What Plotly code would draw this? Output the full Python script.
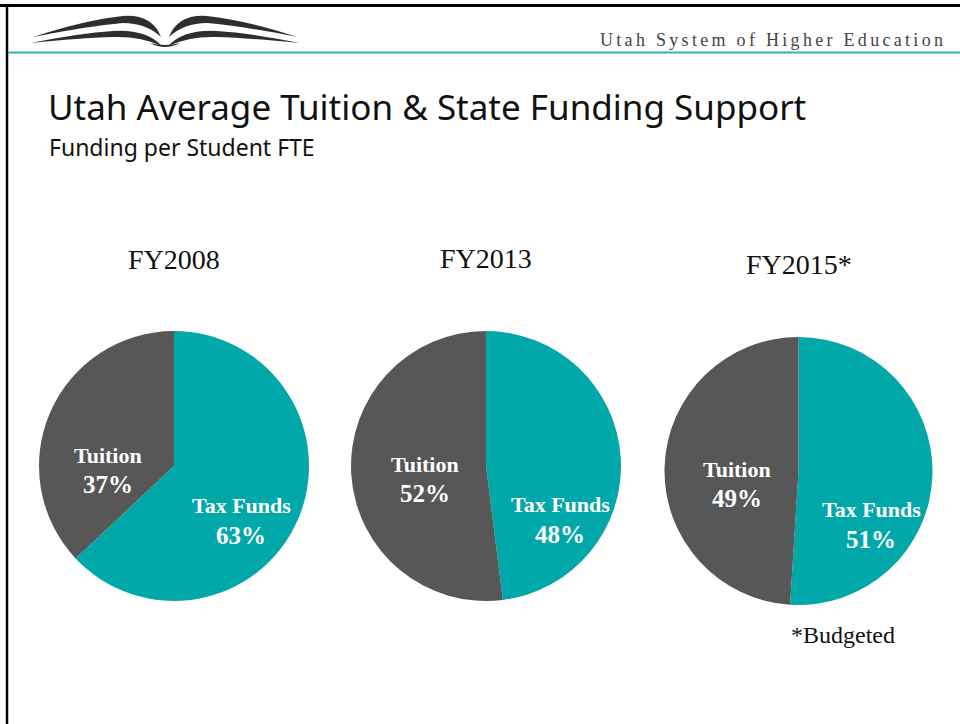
import plotly.graph_objects as go

# Dados
anos = ["FY2008", "FY2013", "FY2015*"]
categorias = ["Tax Funds", "Tuition"]
tax_funds = [63, 48, 51]
tuition = [37, 52, 49]

COR_TEAL = "#00A8A9"
COR_CINZA = "#575757"
SERIF = "Liberation Serif"

# Posições (pixels) de cada pizza: x0, x1, y0, y1
caixas = [(39, 309, 331, 601), (351, 621, 331, 601), (664, 933, 337, 605)]
# Posições dos rótulos: (tuition x, y), (tax x, y), título y
rotulos = [
    ((108, 455), (241, 505), 259),
    ((425, 464), (560, 504), 258),
    ((737, 469), (871, 509), 264),
]

W, H = 960, 724

fig = go.Figure()

for i, ano in enumerate(anos):
    x0, x1, y0, y1 = caixas[i]
    fig.add_trace(
        go.Pie(
            labels=categorias,
            values=[tax_funds[i], tuition[i]],
            marker=dict(colors=[COR_TEAL, COR_CINZA], line=dict(width=0)),
            direction="clockwise",
            sort=False,
            rotation=0,
            textinfo="none",
            hoverinfo="label+percent",
            showlegend=False,
            domain=dict(x=[x0 / W, x1 / W], y=[1 - y1 / H, 1 - y0 / H]),
        )
    )

    (tx, ty), (fx, fy), titulo_y = rotulos[i]
    cx = (x0 + x1) / 2
    # Título de cada pizza
    fig.add_annotation(x=cx, y=titulo_y, text=ano, showarrow=False,
                       font=dict(family=SERIF, size=28, color="#111111"))
    # Rótulos internos
    fig.add_annotation(x=tx, y=ty, text="<b>Tuition</b>", showarrow=False,
                       font=dict(family=SERIF, size=22, color="white"))
    fig.add_annotation(x=tx, y=ty + 29, text=f"<b>{tuition[i]}%</b>", showarrow=False,
                       font=dict(family=SERIF, size=25, color="white"))
    fig.add_annotation(x=fx, y=fy, text="<b>Tax Funds</b>", showarrow=False,
                       font=dict(family=SERIF, size=22, color="white"))
    fig.add_annotation(x=fx, y=fy + 30, text=f"<b>{tax_funds[i]}%</b>", showarrow=False,
                       font=dict(family=SERIF, size=25, color="white"))

# Nota de rodapé
fig.add_annotation(x=843, y=635, text="*Budgeted", showarrow=False,
                   font=dict(family=SERIF, size=24, color="#111111"))

# Títulos do slide
fig.add_annotation(x=46, y=106, text="Utah Average Tuition & State Funding Support",
                   showarrow=False, xanchor="left",
                   font=dict(family="Noto Sans", size=35, color="#111111"))
fig.add_annotation(x=47, y=147, text="Funding per Student FTE",
                   showarrow=False, xanchor="left",
                   font=dict(family="Noto Sans", size=23, color="#111111"))
fig.add_annotation(x=948, y=40,
                   text='<span style="letter-spacing:3.3px">Utah System of Higher Education</span>',
                   showarrow=False, xanchor="right",
                   font=dict(family=SERIF, size=18, color="#444444"))

# Moldura e linha do cabeçalho
shapes = [
    dict(type="line", x0=0, x1=W, y0=5.5, y1=5.5, line=dict(color="black", width=3)),
    dict(type="line", x0=7, x1=7, y0=5, y1=H, line=dict(color="black", width=2.5)),
    dict(type="line", x0=8, x1=W, y0=52.5, y1=52.5, line=dict(color="#2DB3B3", width=2)),
]

# Logo (livro aberto)
logo = [
    "M 33,37 Q 85,20 123,16 Q 152,14 161,37 Q 146,23 123,23 Q 88,26 33,37 Z",
    "M 31,43 Q 80,33 113,31 Q 146,29 162,46 Q 140,36 113,37 Q 80,38 31,43 Z",
    "M 297,37 Q 245,20 207,16 Q 178,14 169,37 Q 184,23 207,23 Q 242,26 297,37 Z",
    "M 299,43 Q 250,33 217,31 Q 184,29 168,46 Q 190,36 217,37 Q 250,38 299,43 Z",
    "M 150,43 Q 165,51 180,43 Q 165,47 150,43 Z",
]
for p in logo:
    shapes.append(dict(type="path", path=p, xref="x", yref="y",
                       fillcolor="#2E2E2E", line=dict(width=0)))

fig.update_layout(
    width=W,
    height=H,
    margin=dict(l=0, r=0, t=0, b=0),
    paper_bgcolor="white",
    plot_bgcolor="rgba(0,0,0,0)",
    xaxis=dict(range=[0, W], visible=False, fixedrange=True),
    yaxis=dict(range=[H, 0], visible=False, fixedrange=True),
    shapes=shapes,
)

# Remove a margem padrão da página e a barra de ferramentas
fig.write_html(
    "out.html",
    config={"displayModeBar": False},
    post_script="document.body.style.margin='0';",
)
